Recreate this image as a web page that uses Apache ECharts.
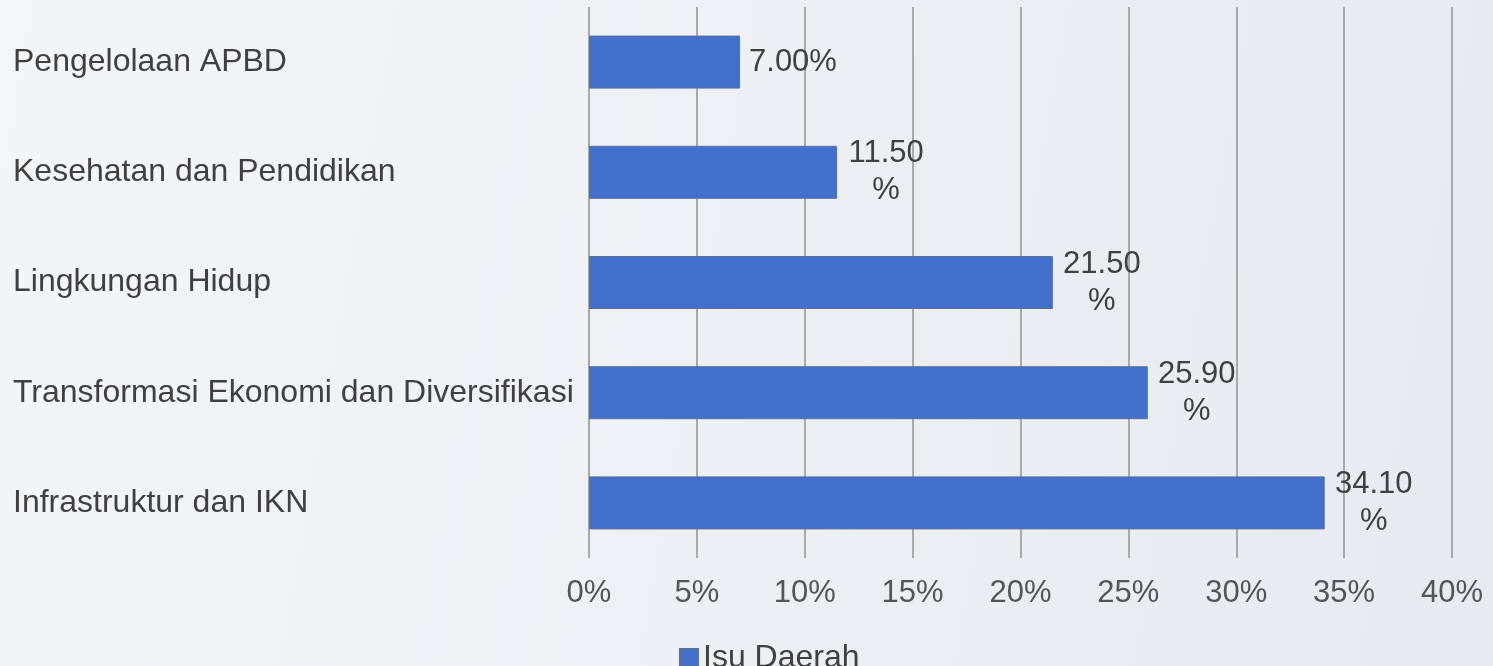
<!DOCTYPE html>
<html lang="id">
<head>
    <meta charset="UTF-8">
    <title>Isu Daerah</title>
    <script src="https://cdn.jsdelivr.net/npm/echarts@6/dist/echarts.min.js"></script>
    <style>
        html, body { margin: 0; padding: 0; }
        body {
            background: linear-gradient(100deg, #f4f5f7 0%, #eef0f3 45%, #e7eaee 100%);
        }
    </style>
</head>
<body>
<div id="main" style="width: 1493px; height: 666px;"></div>
<script type="text/javascript">
    // data
    var categories = ['Pengelolaan APBD', 'Kesehatan dan Pendidikan', 'Lingkungan Hidup',
        'Transformasi Ekonomi dan Diversifikasi', 'Infrastruktur dan IKN'];
    var values = [7.00, 11.50, 21.50, 25.90, 34.10];
    var seriesName = 'Isu Daerah';

    var myChart = echarts.init(document.getElementById('main'));

    var option = {
        backgroundColor: 'transparent',
        animation: false,
        textStyle: {fontFamily: 'Liberation Sans, Arial, sans-serif'},
        grid: {
            left: 589,
            right: 41,
            top: 7,
            bottom: 108,
            containLabel: false,
            outerBoundsMode: 'none'
        },
        legend: {
            data: [seriesName],
            left: 674,
            top: 637,
            itemWidth: 18,
            itemHeight: 18,
            itemGap: 4,
            icon: 'rect',
            textStyle: {fontSize: 32, color: '#404040'}
        },
        xAxis: {
            type: 'value',
            min: 0,
            max: 40,
            interval: 5,
            axisLine: {show: false},
            axisTick: {show: false},
            axisLabel: {
                margin: 20,
                fontSize: 31,
                color: '#555555',
                formatter: function (v) { return v + '%'; }
            },
            splitLine: {
                show: true,
                lineStyle: {color: '#a9a9a9', width: 2}
            }
        },
        yAxis: {
            type: 'category',
            data: categories,
            inverse: true,
            axisLine: {show: false},
            axisTick: {show: false},
            axisLabel: {
                align: 'left',
                margin: 576,
                fontSize: 32,
                color: '#404040',
                padding: [4, 0, 0, 0]
            }
        },
        series: [{
            name: seriesName,
            type: 'bar',
            data: values,
            barWidth: 53,
            itemStyle: {
                color: '#4170cd',
                borderColor: '#5a6f9c',
                borderWidth: 1
            },
            label: {
                show: true,
                position: 'right',
                distance: 9,
                fontSize: 31,
                color: '#404040',
                formatter: function (p) {
                    var s = p.value.toFixed(2);
                    // Excel wrapped the longer labels onto two lines
                    return p.value >= 10 ? '{c|' + s + '}\n{c|%}' : s + '%';
                },
                rich: {
                    c: {width: 80, align: 'center', fontSize: 31, lineHeight: 37, color: '#404040'}
                }
            }
        }]
    };

    option && myChart.setOption(option);
</script>
</body>
</html>
